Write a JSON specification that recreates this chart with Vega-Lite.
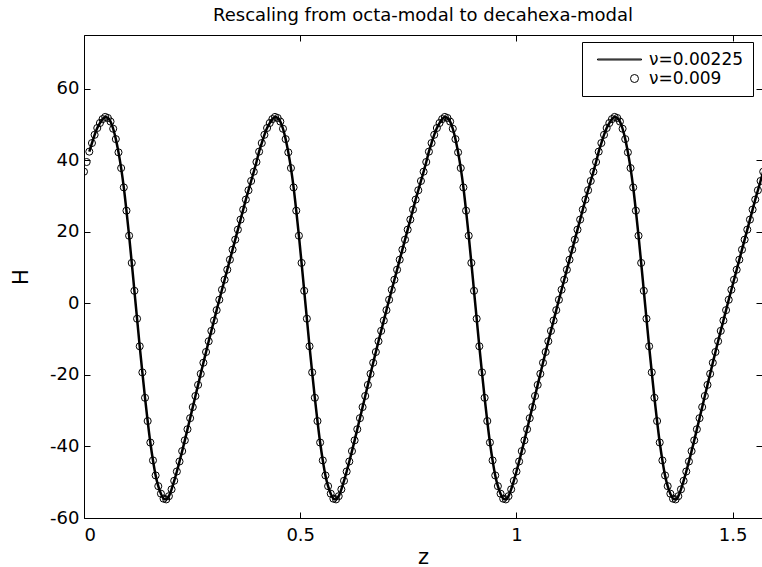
{
"$schema":"https://vega.github.io/schema/vega-lite/v6.json",
"width":678,"height":483,
"autosize":{"type":"none"},
"padding":{"left":84,"top":35,"right":0,"bottom":49},
"background":"white",
"title":{"text":"Rescaling from octa-modal to decahexa-modal","font":"DejaVu Sans","fontSize":18,"fontWeight":"normal","color":"black","offset":10,"anchor":"middle"},
"config":{"view":{"stroke":null},
"axis":{"labelFont":"DejaVu Sans","titleFont":"DejaVu Sans","labelColor":"black","titleColor":"black","domainColor":"black","tickColor":"black","grid":false,"labelFontSize":18,"titleFontSize":21,"titleFontWeight":"normal","domainWidth":1,"tickWidth":1},
"legend":{"labelFont":"DejaVu Sans","labelFontSize":17,"labelColor":"black"}},
"data":{"values":[
{"z":0,"H":36.8},{"z":0.00614,"H":39.5},{"z":0.01227,"H":42.4},{"z":0.01841,"H":44.8},{"z":0.02454,"H":47.1},{"z":0.03068,"H":49.0},{"z":0.03682,"H":50.4},{"z":0.04295,"H":51.5},{"z":0.04909,"H":52.1},{"z":0.05522,"H":51.8},{"z":0.06136,"H":50.8},{"z":0.0675,"H":48.8},{"z":0.07363,"H":45.9},{"z":0.07977,"H":42.2},{"z":0.0859,"H":37.8},{"z":0.09204,"H":32.4},{"z":0.09817,"H":25.9},{"z":0.10431,"H":18.9},{"z":0.11045,"H":11.3},{"z":0.11658,"H":3.5},{"z":0.12272,"H":-4.3},{"z":0.12885,"H":-12.0},{"z":0.13499,"H":-19.3},{"z":0.14113,"H":-26.4},{"z":0.14726,"H":-32.9},{"z":0.1534,"H":-38.9},{"z":0.15953,"H":-43.9},{"z":0.16567,"H":-48.1},{"z":0.17181,"H":-51.1},{"z":0.17794,"H":-53.2},{"z":0.18408,"H":-54.6},{"z":0.19021,"H":-54.8},{"z":0.19635,"H":-53.9},{"z":0.20249,"H":-52.0},{"z":0.20862,"H":-49.6},{"z":0.21476,"H":-47.0},{"z":0.22089,"H":-44.2},{"z":0.22703,"H":-41.3},{"z":0.23317,"H":-38.3},{"z":0.2393,"H":-35.2},{"z":0.24544,"H":-32.1},{"z":0.25157,"H":-29.0},{"z":0.25771,"H":-25.9},{"z":0.26385,"H":-22.8},{"z":0.26998,"H":-19.7},{"z":0.27612,"H":-16.6},{"z":0.28225,"H":-13.6},{"z":0.28839,"H":-10.6},{"z":0.29452,"H":-7.7},{"z":0.30066,"H":-4.8},{"z":0.3068,"H":-1.9},{"z":0.31293,"H":1.0},{"z":0.31907,"H":3.8},{"z":0.3252,"H":6.6},{"z":0.33134,"H":9.4},{"z":0.33748,"H":12.2},{"z":0.34361,"H":15.0},{"z":0.34975,"H":17.8},{"z":0.35588,"H":20.6},{"z":0.36202,"H":23.4},{"z":0.36816,"H":26.2},{"z":0.37429,"H":29.0},{"z":0.38043,"H":31.6},{"z":0.38656,"H":34.2},
{"z":0.3927,"H":36.8},{"z":0.39884,"H":39.5},{"z":0.40497,"H":42.4},{"z":0.41111,"H":44.8},{"z":0.41724,"H":47.1},{"z":0.42338,"H":49.0},{"z":0.42952,"H":50.4},{"z":0.43565,"H":51.5},{"z":0.44179,"H":52.1},{"z":0.44792,"H":51.8},{"z":0.45406,"H":50.8},{"z":0.4602,"H":48.8},{"z":0.46633,"H":45.9},{"z":0.47247,"H":42.2},{"z":0.4786,"H":37.8},{"z":0.48474,"H":32.4},{"z":0.49087,"H":25.9},{"z":0.49701,"H":18.9},{"z":0.50315,"H":11.3},{"z":0.50928,"H":3.5},{"z":0.51542,"H":-4.3},{"z":0.52155,"H":-12.0},{"z":0.52769,"H":-19.3},{"z":0.53383,"H":-26.4},{"z":0.53996,"H":-32.9},{"z":0.5461,"H":-38.9},{"z":0.55223,"H":-43.9},{"z":0.55837,"H":-48.1},{"z":0.56451,"H":-51.1},{"z":0.57064,"H":-53.2},{"z":0.57678,"H":-54.6},{"z":0.58291,"H":-54.8},{"z":0.58905,"H":-53.9},{"z":0.59519,"H":-52.0},{"z":0.60132,"H":-49.6},{"z":0.60746,"H":-47.0},{"z":0.61359,"H":-44.2},{"z":0.61973,"H":-41.3},{"z":0.62587,"H":-38.3},{"z":0.632,"H":-35.2},{"z":0.63814,"H":-32.1},{"z":0.64427,"H":-29.0},{"z":0.65041,"H":-25.9},{"z":0.65655,"H":-22.8},{"z":0.66268,"H":-19.7},{"z":0.66882,"H":-16.6},{"z":0.67495,"H":-13.6},{"z":0.68109,"H":-10.6},{"z":0.68722,"H":-7.7},{"z":0.69336,"H":-4.8},{"z":0.6995,"H":-1.9},{"z":0.70563,"H":1.0},{"z":0.71177,"H":3.8},{"z":0.7179,"H":6.6},{"z":0.72404,"H":9.4},{"z":0.73018,"H":12.2},{"z":0.73631,"H":15.0},{"z":0.74245,"H":17.8},{"z":0.74858,"H":20.6},{"z":0.75472,"H":23.4},{"z":0.76086,"H":26.2},{"z":0.76699,"H":29.0},{"z":0.77313,"H":31.6},{"z":0.77926,"H":34.2},
{"z":0.7854,"H":36.8},{"z":0.79154,"H":39.5},{"z":0.79767,"H":42.4},{"z":0.80381,"H":44.8},{"z":0.80994,"H":47.1},{"z":0.81608,"H":49.0},{"z":0.82222,"H":50.4},{"z":0.82835,"H":51.5},{"z":0.83449,"H":52.1},{"z":0.84062,"H":51.8},{"z":0.84676,"H":50.8},{"z":0.8529,"H":48.8},{"z":0.85903,"H":45.9},{"z":0.86517,"H":42.2},{"z":0.8713,"H":37.8},{"z":0.87744,"H":32.4},{"z":0.88357,"H":25.9},{"z":0.88971,"H":18.9},{"z":0.89585,"H":11.3},{"z":0.90198,"H":3.5},{"z":0.90812,"H":-4.3},{"z":0.91425,"H":-12.0},{"z":0.92039,"H":-19.3},{"z":0.92653,"H":-26.4},{"z":0.93266,"H":-32.9},{"z":0.9388,"H":-38.9},{"z":0.94493,"H":-43.9},{"z":0.95107,"H":-48.1},{"z":0.95721,"H":-51.1},{"z":0.96334,"H":-53.2},{"z":0.96948,"H":-54.6},{"z":0.97561,"H":-54.8},{"z":0.98175,"H":-53.9},{"z":0.98789,"H":-52.0},{"z":0.99402,"H":-49.6},{"z":1.00016,"H":-47.0},{"z":1.00629,"H":-44.2},{"z":1.01243,"H":-41.3},{"z":1.01857,"H":-38.3},{"z":1.0247,"H":-35.2},{"z":1.03084,"H":-32.1},{"z":1.03697,"H":-29.0},{"z":1.04311,"H":-25.9},{"z":1.04925,"H":-22.8},{"z":1.05538,"H":-19.7},{"z":1.06152,"H":-16.6},{"z":1.06765,"H":-13.6},{"z":1.07379,"H":-10.6},{"z":1.07992,"H":-7.7},{"z":1.08606,"H":-4.8},{"z":1.0922,"H":-1.9},{"z":1.09833,"H":1.0},{"z":1.10447,"H":3.8},{"z":1.1106,"H":6.6},{"z":1.11674,"H":9.4},{"z":1.12288,"H":12.2},{"z":1.12901,"H":15.0},{"z":1.13515,"H":17.8},{"z":1.14128,"H":20.6},{"z":1.14742,"H":23.4},{"z":1.15356,"H":26.2},{"z":1.15969,"H":29.0},{"z":1.16583,"H":31.6},{"z":1.17196,"H":34.2},
{"z":1.1781,"H":36.8},{"z":1.18424,"H":39.5},{"z":1.19037,"H":42.4},{"z":1.19651,"H":44.8},{"z":1.20264,"H":47.1},{"z":1.20878,"H":49.0},{"z":1.21492,"H":50.4},{"z":1.22105,"H":51.5},{"z":1.22719,"H":52.1},{"z":1.23332,"H":51.8},{"z":1.23946,"H":50.8},{"z":1.2456,"H":48.8},{"z":1.25173,"H":45.9},{"z":1.25787,"H":42.2},{"z":1.264,"H":37.8},{"z":1.27014,"H":32.4},{"z":1.27627,"H":25.9},{"z":1.28241,"H":18.9},{"z":1.28855,"H":11.3},{"z":1.29468,"H":3.5},{"z":1.30082,"H":-4.3},{"z":1.30695,"H":-12.0},{"z":1.31309,"H":-19.3},{"z":1.31923,"H":-26.4},{"z":1.32536,"H":-32.9},{"z":1.3315,"H":-38.9},{"z":1.33763,"H":-43.9},{"z":1.34377,"H":-48.1},{"z":1.34991,"H":-51.1},{"z":1.35604,"H":-53.2},{"z":1.36218,"H":-54.6},{"z":1.36831,"H":-54.8},{"z":1.37445,"H":-53.9},{"z":1.38059,"H":-52.0},{"z":1.38672,"H":-49.6},{"z":1.39286,"H":-47.0},{"z":1.39899,"H":-44.2},{"z":1.40513,"H":-41.3},{"z":1.41126,"H":-38.3},{"z":1.4174,"H":-35.2},{"z":1.42354,"H":-32.1},{"z":1.42967,"H":-29.0},{"z":1.43581,"H":-25.9},{"z":1.44194,"H":-22.8},{"z":1.44808,"H":-19.7},{"z":1.45422,"H":-16.6},{"z":1.46035,"H":-13.6},{"z":1.46649,"H":-10.6},{"z":1.47262,"H":-7.7},{"z":1.47876,"H":-4.8},{"z":1.4849,"H":-1.9},{"z":1.49103,"H":1.0},{"z":1.49717,"H":3.8},{"z":1.5033,"H":6.6},{"z":1.50944,"H":9.4},{"z":1.51558,"H":12.2},{"z":1.52171,"H":15.0},{"z":1.52785,"H":17.8},{"z":1.53398,"H":20.6},{"z":1.54012,"H":23.4},{"z":1.54625,"H":26.2},{"z":1.55239,"H":29.0},{"z":1.55853,"H":31.6},{"z":1.56466,"H":34.2},
{"z":1.5708,"H":36.8}
]},
"resolve":{"axis":{"x":"independent","y":"independent"}},
"layer":[
{"transform":[{"filter":"datum.z > 0.01"}],
 "mark":{"type":"line","color":"black","strokeWidth":2.5,"clip":true,"interpolate":"monotone"},
 "encoding":{
  "x":{"field":"z","type":"quantitative","scale":{"domain":[0,1.568],"nice":false,"zero":false},
   "axis":{"orient":"top","values":[0,0.5,1,1.5],"labels":false,"title":null,"tickSize":-6,"domain":true}},
  "y":{"field":"H","type":"quantitative","scale":{"domain":[-60,75],"nice":false,"zero":false},
   "axis":{"orient":"right","values":[-60,-40,-20,0,20,40,60],"labels":false,"title":null,"tickSize":-6,"domain":false}}
 }},
{"mark":{"type":"point","filled":false,"color":"black","strokeWidth":1,"size":50,"opacity":1,"clip":true},
 "encoding":{
  "x":{"field":"z","type":"quantitative",
   "axis":{"orient":"bottom","values":[0,0.5,1,1.5],"labelExpr":"'' + datum.value","title":"z","tickSize":-6,"labelPadding":14,"titlePadding":2}},
  "y":{"field":"H","type":"quantitative",
   "axis":{"orient":"left","values":[-60,-40,-20,0,20,40,60],"labelExpr":"'' + datum.value","title":"H","tickSize":-6,"labelPadding":11,"titlePadding":18}},
  "shape":{"datum":"ν=0.009","scale":{"domain":["ν=0.00225","ν=0.009"],"range":["M-9.25,-0.12H1.75V0.12H-9.25Z","circle"]},
   "legend":{"title":null,"orient":"none","legendX":498,"legendY":7,"strokeColor":"black","fillColor":"white","padding":9,"symbolSize":64,"symbolOffset":35,"labelOffset":6,"rowPadding":1,"symbolStrokeColor":"black","symbolFillColor":"transparent","symbolStrokeWidth":1,"symbolOpacity":1}}
 }}
]
}
